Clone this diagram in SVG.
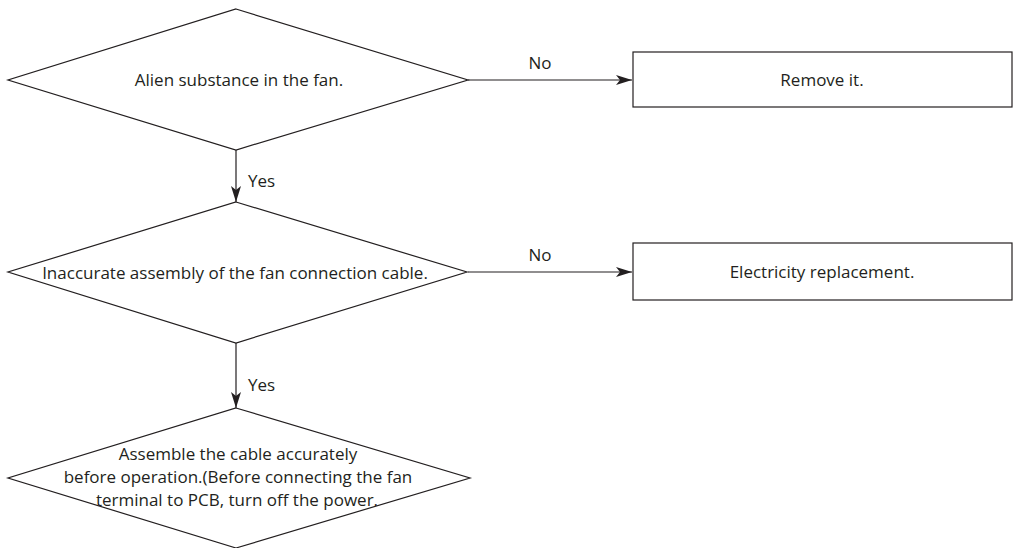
<svg xmlns="http://www.w3.org/2000/svg" width="1013" height="548" viewBox="0 0 1013 548">
  <style>
    .shape { fill: #ffffff; stroke: #231f20; stroke-width: 1.2; }
    .link { fill: none; stroke: #231f20; stroke-width: 1.2; }
    text { font-family: "Open Sans", "Noto Sans", sans-serif; font-size: 17px; fill: #231f20; }
    .c { text-anchor: middle; }
  </style>
  <defs>
    <marker id="arrow" viewBox="0 0 16 10" refX="16" refY="5" markerWidth="16" markerHeight="10" markerUnits="userSpaceOnUse" orient="auto">
      <path d="M0,0 L16,5 L0,10 L4,5 Z" fill="#231f20"/>
    </marker>
  </defs>

  <rect width="1013" height="548" fill="#ffffff"/>

  <!-- connectors -->
  <g id="connectors">
    <line class="link" x1="468" y1="80" x2="632" y2="80" marker-end="url(#arrow)"/>
    <text x="540" y="69" class="c">No</text>
    <line class="link" x1="236" y1="150" x2="236" y2="202" marker-end="url(#arrow)"/>
    <text x="248" y="187">Yes</text>
    <line class="link" x1="468" y1="272" x2="632" y2="272" marker-end="url(#arrow)"/>
    <text x="540" y="261" class="c">No</text>
    <line class="link" x1="236" y1="343" x2="236" y2="408" marker-end="url(#arrow)"/>
    <text x="248" y="391">Yes</text>
  </g>

  <g id="q-alien">
    <polygon class="shape" points="236,9 468,80 236,150 8,80"/>
    <text x="239" y="86" class="c">Alien substance in the fan.</text>
  </g>

  <g id="act-remove">
    <rect class="shape" x="633" y="52" width="379" height="55"/>
    <text x="822" y="86" class="c">Remove it.</text>
  </g>

  <g id="q-cable">
    <polygon class="shape" points="236,202 467,272 236,343 8,272"/>
    <text x="235" y="279" class="c">Inaccurate assembly of the fan connection cable.</text>
  </g>

  <g id="act-electricity">
    <rect class="shape" x="633" y="243" width="379" height="57"/>
    <text x="822" y="278" class="c">Electricity replacement.</text>
  </g>

  <g id="act-assemble">
    <polygon class="shape" points="236,408 470,478 236,548 8,478"/>
    <text x="238" y="460" class="c">Assemble the cable accurately</text>
    <text x="238" y="483" class="c">before operation.(Before connecting the fan</text>
    <text x="237" y="506" class="c">terminal to PCB, turn off the power.</text>
  </g>
</svg>
